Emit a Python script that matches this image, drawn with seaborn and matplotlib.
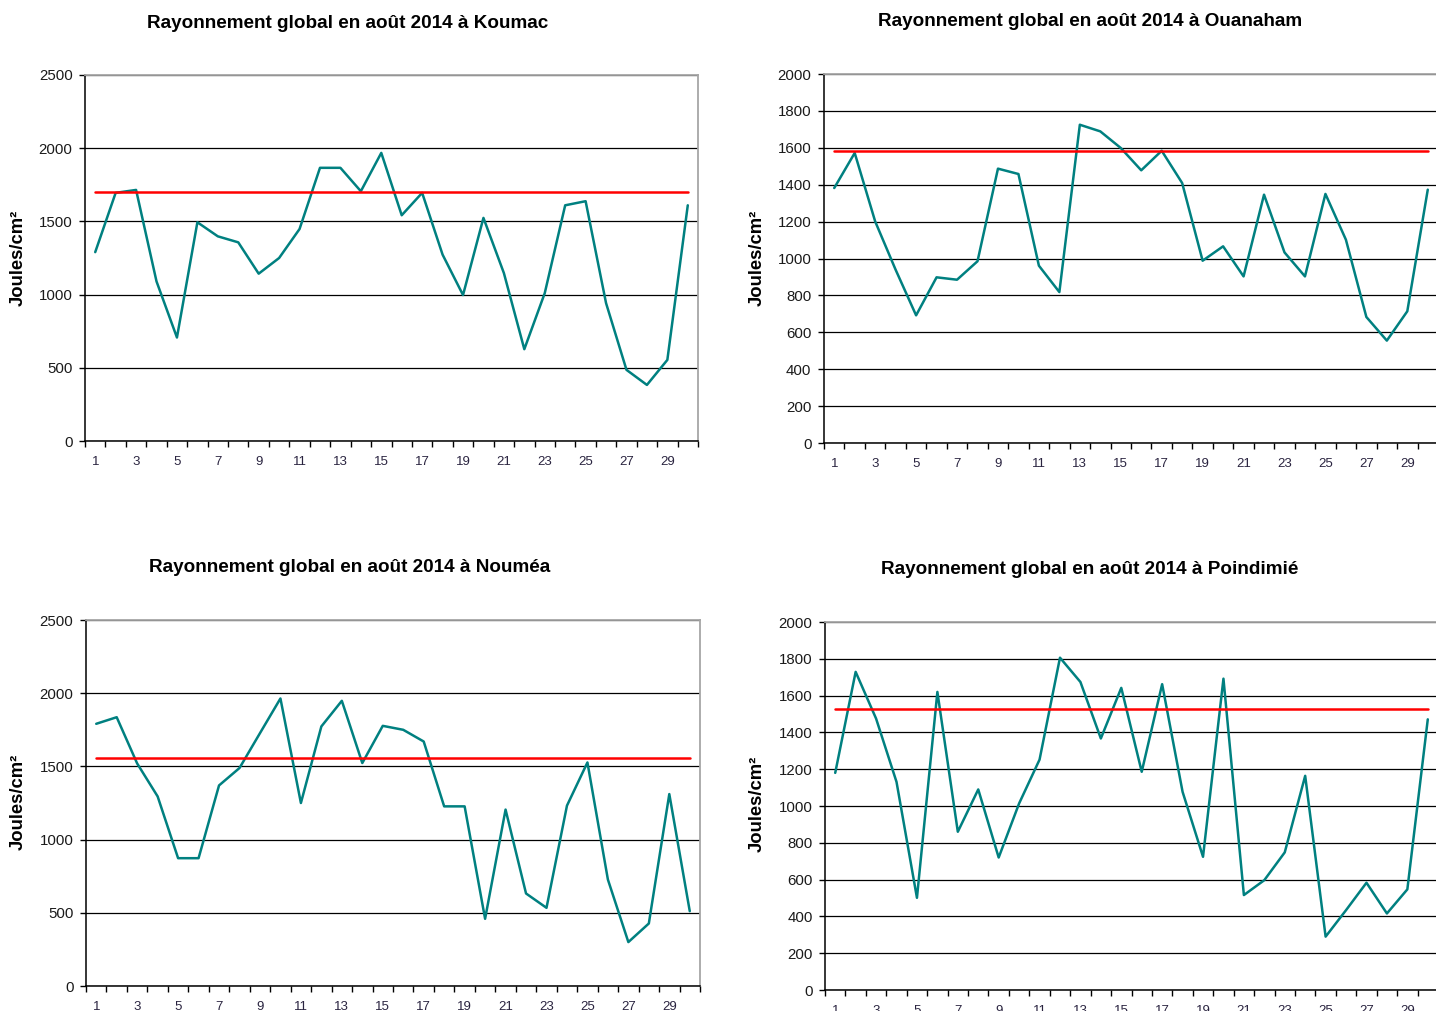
import matplotlib
import matplotlib.pyplot as plt
import numpy as np
import pandas as pd
import seaborn as sns

matplotlib.use("Agg")

sns.set_theme(style="white")
plt.rcParams["font.family"] = ["Liberation Sans", "DejaVu Sans"]
plt.rcParams["text.color"] = "black"

days = list(range(1, 31))
day_labels = [str(d) for d in days[::2]]

koumac = [1290, 1695, 1715, 1090, 707, 1494, 1398, 1357, 1143, 1250,
          1448, 1866, 1866, 1706, 1968, 1542, 1695, 1273, 997, 1524,
          1147, 627, 1010, 1610, 1638, 942, 486, 383, 554, 1610]
ouanaham = [1382, 1572, 1201, 939, 692, 898, 885, 985, 1487, 1458,
            961, 818, 1725, 1689, 1599, 1478, 1584, 1409, 988, 1066,
            903, 1346, 1033, 903, 1350, 1102, 683, 555, 714, 1373]
noumea = [1791, 1836, 1520, 1295, 873, 873, 1370, 1489, 1727, 1964,
          1250, 1773, 1948, 1523, 1777, 1750, 1670, 1227, 1227, 459,
          1205, 632, 534, 1232, 1527, 727, 300, 427, 1311, 511]
poindimie = [1180, 1729, 1475, 1131, 501, 1620, 860, 1090, 720, 1014,
             1252, 1806, 1674, 1367, 1642, 1186, 1662, 1077, 724, 1692,
             516, 597, 748, 1164, 290, 434, 583, 416, 547, 1471]

normals = {"Koumac": 1702, "Ouanaham": 1584, "Nouméa": 1559, "Poindimié": 1526}
series = {"Koumac": koumac, "Ouanaham": ouanaham, "Nouméa": noumea, "Poindimié": poindimie}
y_max = {"Koumac": 2500, "Ouanaham": 2000, "Nouméa": 2500, "Poindimié": 2000}
y_step = {"Koumac": 500, "Ouanaham": 200, "Nouméa": 500, "Poindimié": 200}

W, H = 1436, 1011
# pixel boxes: left, top, right, bottom ; title centre ; ylabel centre
layout = {
    "Koumac": ((85, 75, 698, 441), (348, 24), (18, 258)),
    "Ouanaham": ((824, 74, 1438, 443), (1090, 22), (757, 258)),
    "Nouméa": ((86, 620, 700, 986), (350, 568), (18, 802)),
    "Poindimié": ((825, 622, 1438, 990), (1090, 569), (757, 804)),
}

fig = plt.figure(figsize=(W / 100, H / 100), dpi=100)

for station, (box, tpos, ypos) in layout.items():
    l, t, r, b = box
    ax = fig.add_axes([l / W, 1 - b / H, (r - l) / W, (b - t) / H])
    df = pd.DataFrame({"jour": days, "val": series[station]})
    sns.lineplot(data=df, x="jour", y="val", color="#008080", linewidth=1.8, ax=ax)
    sns.lineplot(x=days, y=[normals[station]] * len(days), color="#ff0000",
                 linewidth=1.8, ax=ax)

    ax.set_xlim(0.5, 30.5)
    ax.set_ylim(0, y_max[station])
    ax.set_yticks(np.arange(0, y_max[station] + 1, y_step[station]))
    ax.set_xticks(days[::2])
    ax.set_xticklabels(day_labels)
    ax.set_xticks(np.arange(0.5, 31, 1), minor=True)
    ax.tick_params(axis="x", which="major", length=0, pad=11, labelsize=9.5,
                   labelcolor="#2a2440")
    ax.tick_params(axis="x", which="minor", length=4, width=1, color="black",
                   direction="out", bottom=True)
    ax.tick_params(axis="y", length=4, width=1, color="black", direction="out",
                   left=True, pad=5, labelsize=10.8, labelcolor="#1a1a1a")
    ax.set_xlabel("")
    ax.set_ylabel("")
    ax.yaxis.grid(True, color="black", linewidth=0.9)
    ax.set_axisbelow(True)
    for side in ("left", "bottom"):
        ax.spines[side].set_color("black")
        ax.spines[side].set_linewidth(1.1)
    for side in ("top", "right"):
        ax.spines[side].set_color("#a6a6a6")
        ax.spines[side].set_linewidth(1.3)

    fig.text(tpos[0] / W, 1 - tpos[1] / H,
             f"Rayonnement global en août 2014 à {station}",
             ha="center", va="center", fontsize=13.6, fontweight="bold",
             color="black")
    fig.text(ypos[0] / W, 1 - ypos[1] / H, "Joules/cm²", rotation=90,
             ha="center", va="center", fontsize=13.3, fontweight="bold",
             color="black")

fig.savefig("out.png", dpi=100, facecolor="white")
